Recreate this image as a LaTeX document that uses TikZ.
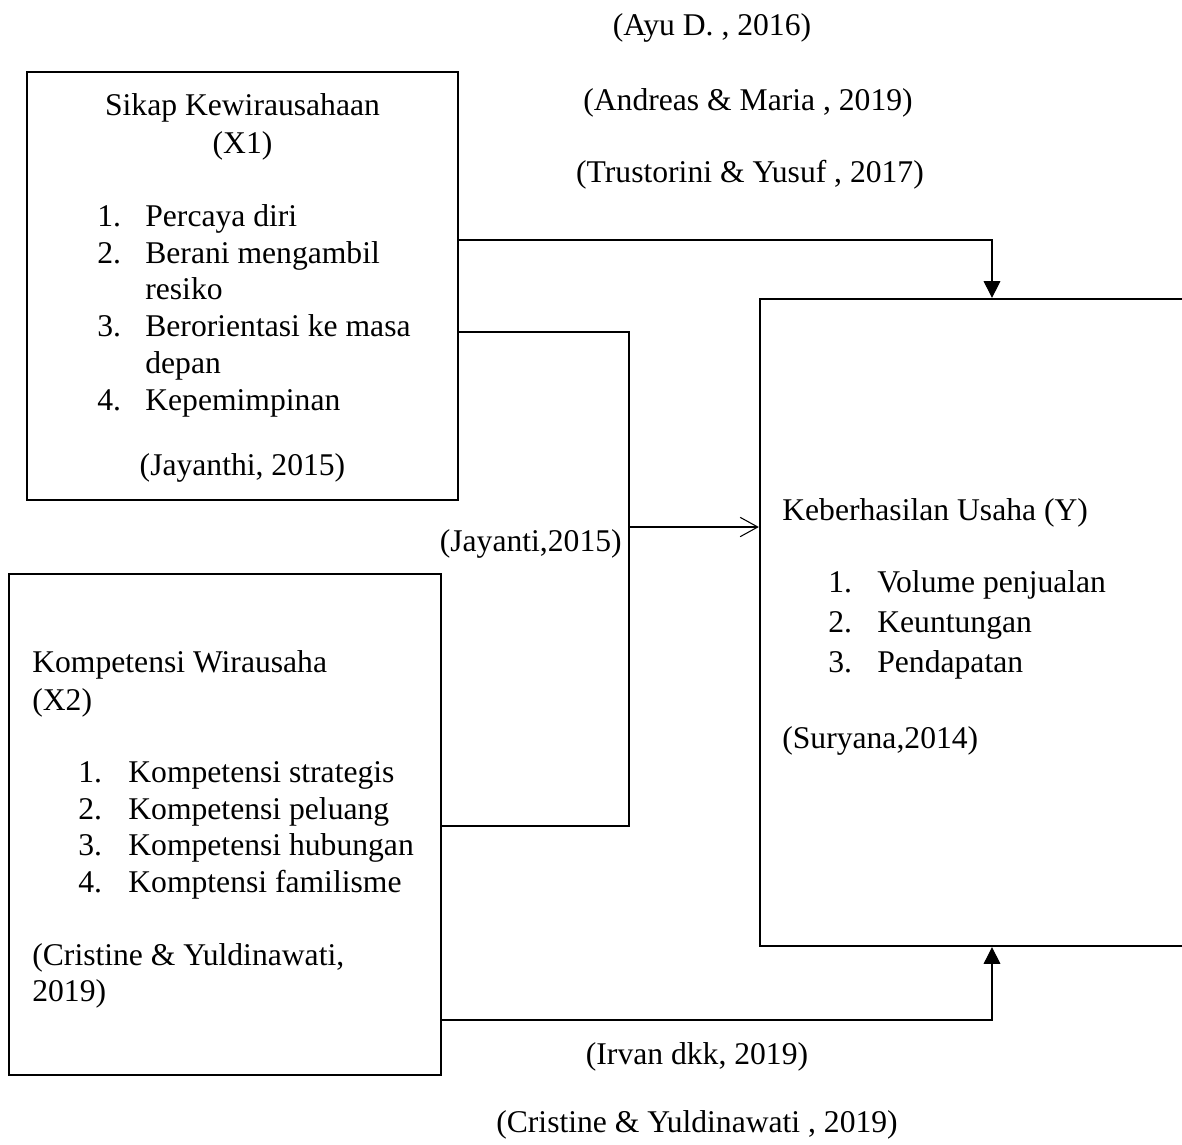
\documentclass[tikz,border=0pt]{standalone}
\usepackage{fontspec}
\setmainfont{Liberation Serif}
\usetikzlibrary{arrows.meta,calc}
\begin{document}
\begin{tikzpicture}[x=0.02cm,y=-0.02cm,
  box/.style={draw,line width=1.3pt,minimum width=#1,inner sep=0pt},
  conn/.style={line width=0.6pt},
  txt/.style={inner sep=0pt,font=\fontsize{18}{20.8}\selectfont},
  fillarrow/.style={-{Triangle[length=9.5pt,width=9.5pt]}},
  openarrow/.style={-{Straight Barb[length=10pt,width=11pt]}}]
\useasboundingbox (0,0) rectangle (1182,1144);
\clip (0,0) rectangle (1182,1144);
% boxes
\node[box=431*0.02cm, minimum height=428*0.02cm] (x1) at (242.5,286) {};
\node[box=432*0.02cm, minimum height=501*0.02cm] (x2) at (225,824.5) {};
\node[box=460*0.02cm, minimum height=647*0.02cm] (y) at (990,622.5) {};
% box 1 text
\node[txt,anchor=base] (t1) at (242.5,115) {Sikap Kewirausahaan};
\node[txt,anchor=base] (t2) at (242.5,153) {(X1)};
\node[txt,anchor=base west] (n11) at (97,226) {1.};
\node[txt,anchor=base west] (i11) at (145,226) {Percaya diri};
\node[txt,anchor=base west] (n12) at (97,263) {2.};
\node[txt,anchor=base west] (i12) at (145,263) {Berani mengambil};
\node[txt,anchor=base west] (i12b) at (145,299) {resiko};
\node[txt,anchor=base west] (n13) at (97,336) {3.};
\node[txt,anchor=base west] (i13) at (145,336) {Berorientasi ke masa};
\node[txt,anchor=base west] (i13b) at (145,373) {depan};
\node[txt,anchor=base west] (n14) at (97,410) {4.};
\node[txt,anchor=base west] (i14) at (145,410) {Kepemimpinan};
\node[txt,anchor=base] (r1) at (242.5,475) {(Jayanthi, 2015)};
% box 2 text
\node[txt,anchor=base west] (u1) at (32,672) {Kompetensi Wirausaha};
\node[txt,anchor=base west] (u2) at (32,710) {(X2)};
\node[txt,anchor=base west] (n21) at (78,782) {1.};
\node[txt,anchor=base west] (i21) at (128,782) {Kompetensi strategis};
\node[txt,anchor=base west] (n22) at (78,819) {2.};
\node[txt,anchor=base west] (i22) at (128,819) {Kompetensi peluang};
\node[txt,anchor=base west] (n23) at (78,855) {3.};
\node[txt,anchor=base west] (i23) at (128,855) {Kompetensi hubungan};
\node[txt,anchor=base west] (n24) at (78,892) {4.};
\node[txt,anchor=base west] (i24) at (128,892) {Komptensi familisme};
\node[txt,anchor=base west] (r2a) at (32,965) {(Cristine \& Yuldinawati,};
\node[txt,anchor=base west] (r2b) at (32,1001) {2019)};
% right box text
\node[txt,anchor=base west] (v1) at (782,520) {Keberhasilan Usaha (Y)};
\node[txt,anchor=base west] (n31) at (828,592) {1.};
\node[txt,anchor=base west] (i31) at (877,592) {Volume penjualan};
\node[txt,anchor=base west] (n32) at (828,632) {2.};
\node[txt,anchor=base west] (i32) at (877,632) {Keuntungan};
\node[txt,anchor=base west] (n33) at (828,672) {3.};
\node[txt,anchor=base west] (i33) at (877,672) {Pendapatan};
\node[txt,anchor=base west] (r3) at (782,748) {(Suryana,2014)};
% outside labels
\node[txt,anchor=base] (l1) at (712,35) {(Ayu D. , 2016)};
\node[txt,anchor=base] (l2) at (748,110) {(Andreas \& Maria , 2019)};
\node[txt,anchor=base] (l3) at (750,182) {(Trustorini \& Yusuf , 2017)};
\node[txt,anchor=base east] (l4) at (622,551) {(Jayanti,2015)};
\node[txt,anchor=base] (l5) at (697,1064) {(Irvan dkk, 2019)};
\node[txt,anchor=base] (l6) at (697,1132) {(Cristine \& Yuldinawati , 2019)};
% connector coordinates
\coordinate (c1) at (992,240);
\coordinate (c2) at (629,332);
\coordinate (c3) at (629,826);
\coordinate (c4) at (629,527);
\coordinate (c5) at (992,1020);
% connectors
\draw[conn,fillarrow] (x1.east |- c1) -- (c1) -- (c1 |- y.north);
\draw[conn] (x1.east |- c2) -- (c2) -- (c3) -- (x2.east |- c3);
\draw[conn,openarrow] (c4) -- (y.west |- c4);
\draw[conn,fillarrow] (x2.east |- c5) -- (c5) -- (c5 |- y.south);
\end{tikzpicture}
\end{document}
